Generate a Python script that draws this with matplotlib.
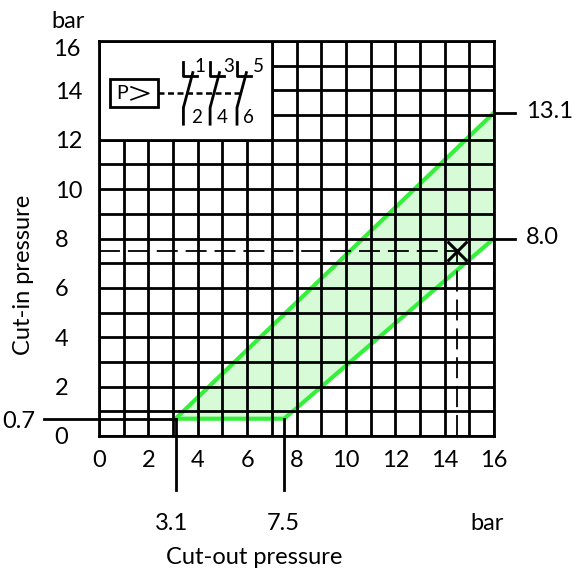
import numpy as np
import matplotlib
matplotlib.use('Agg')
import matplotlib.pyplot as plt
from matplotlib.patches import Rectangle

plt.rcParams['font.family'] = ['Lato', 'DejaVu Sans']

# operating band, bar
band_x = [3.1, 7.5, 16, 16, 3.1]
band_y = [0.7, 0.7, 8.0, 13.1, 0.7]
cutout_marks = [3.1, 7.5]
cutin_marks = [13.1, 8.0]
cutin_low = 0.7
point_x = 14.5
point_y = 7.5
ticks = list(range(17))
even_labels = [str(t) if t % 2 == 0 else '' for t in ticks]
ylabels = [str(t) if t % 2 == 0 and t != 16 else '' for t in ticks]

# switch contacts in the inset, numbered top/bottom
contact_x = [3.42, 4.5, 5.59]
top_nums = ['1', '3', '5']
bot_nums = ['2', '4', '6']
top_dx = [0.67, 0.77, 0.85]
bot_dx = [0.52, 0.5, 0.47]

GREEN = '#35f03a'
FILL = '#d6fbd6'
FS = 17

fig = plt.figure(figsize=(5.8, 5.75), dpi=100)
ax = fig.add_axes([99/580, (575-436)/575, (494-99)/580, (436-41)/575])
ax.set_xlim(0, 16)
ax.set_ylim(0, 16)
ax.set_xticks(ticks)
ax.set_yticks(ticks)
ax.set_xticklabels(even_labels, fontsize=FS)
ax.set_yticklabels(ylabels, fontsize=FS, ha='left')
ax.tick_params(length=0)
ax.tick_params(axis='x', pad=10)
ax.tick_params(axis='y', pad=32)
ax.grid(True, color='black', lw=2.0, zorder=2.5)
ax.set_axisbelow(False)
for s in ax.spines.values():
    s.set_linewidth(2.0)
    s.set_zorder(6)

ax.fill(band_x, band_y, color=FILL, lw=0, zorder=1)
ax.plot(band_x[:3], band_y[:3], color=GREEN, lw=3, solid_capstyle='butt', zorder=2)
ax.plot([band_x[4], band_x[3]], [band_y[4], band_y[3]], color=GREEN, lw=3, zorder=2)

# outside leader lines
ax.plot([-2.23, cutout_marks[0]], [cutin_low, cutin_low], color='k', lw=2.0, clip_on=False, zorder=4)
for xm in cutout_marks:
    ax.plot([xm, xm], [cutin_low, -2.19], color='k', lw=2.0, clip_on=False, zorder=4)
for ym in cutin_marks:
    ax.plot([16, 16.87], [ym, ym], color='k', lw=2.0, clip_on=False, zorder=4)

# working point
ax.plot([0, point_x], [point_y, point_y], color='k', lw=1.3, dashes=(11.6, 4.4), zorder=4)
ax.plot([point_x, point_x], [0, point_y], color='k', lw=1.3, dashes=(11.6, 4.4), zorder=4)
ax.plot([point_x], [point_y], marker='x', ms=14, mew=2.2, color='k', zorder=5)

# inset with the circuit symbol
ax.add_patch(Rectangle((0, 12), 7, 4, fc='white', ec='black', lw=2.0, zorder=3))
ax.add_patch(Rectangle((0.45, 13.33), 1.95, 1.13, fc='white', ec='black', lw=2.0, zorder=4))
ax.text(0.93, 13.87, 'P', fontsize=14, ha='center', va='center', zorder=5)
ax.plot([1.3, 2.02, 1.3], [14.14, 13.88, 13.62], color='k', lw=1.2, zorder=5)
ax.plot([2.4, 5.72], [13.88, 13.88], color='k', lw=1.8, dashes=(2.4, 1.4), zorder=4)
for cx, top, bot, tdx, bdx in zip(contact_x, top_nums, bot_nums, top_dx, bot_dx):
    ax.plot([cx, cx, cx + 0.55], [15.15, 14.58, 14.58], color='k', lw=2.0, zorder=5)
    ax.plot([cx + 0.38, cx, cx], [14.72, 13.3, 12.63], color='k', lw=2.0, zorder=5)
    ax.text(cx + tdx, 14.98, top, fontsize=13.5, ha='center', va='center', zorder=5)
    ax.text(cx + bdx, 12.92, bot, fontsize=13.5, ha='center', va='center', zorder=5)

# free labels, placed in figure pixels
def px_text(x, y, s, **kw):
    fig.text(x/580, 1 - y/575, s, fontsize=FS, ha='center', va='center', **kw)

px_text(68, 22, 'bar')
px_text(67, 49, '16')
px_text(487, 524, 'bar')
px_text(19, 421, '0.7')
px_text(172, 523, '3.1')
px_text(283, 523, '7.5')
px_text(550, 112, '13.1')
px_text(542, 237, '8.0')
px_text(254, 557, 'Cut-out pressure')
px_text(24, 275, 'Cut-in pressure', rotation=90)

fig.savefig('out.png', dpi=100)
